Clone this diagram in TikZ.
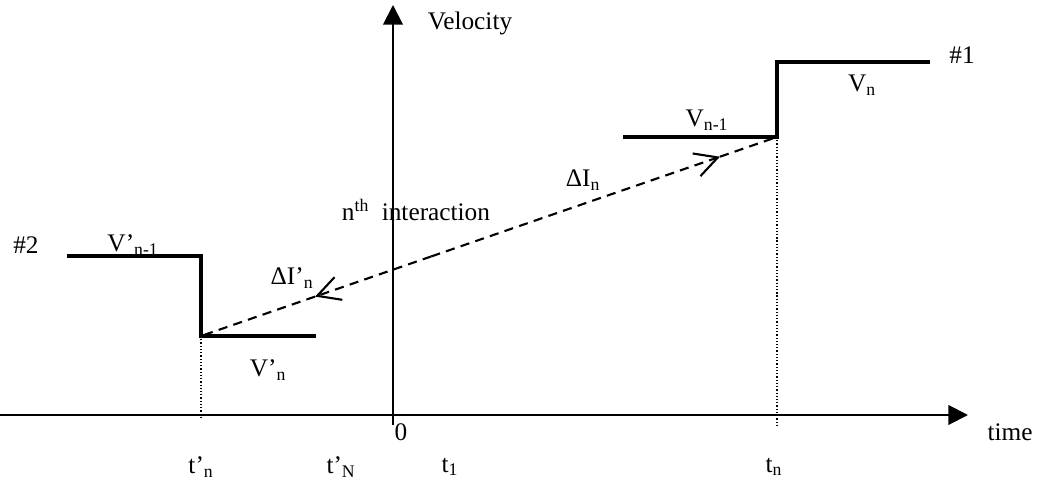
\documentclass[tikz,border=0pt]{standalone}
\usepackage{fontspec}
\setmainfont{Liberation Serif}
\usetikzlibrary{arrows.meta,calc}

\begin{document}
\begin{tikzpicture}[x=0.025cm, y=-0.025cm,
    every node/.style={font=\fontsize{18}{21}\selectfont, inner sep=1pt},
    axis/.style={line width=1.4pt, -{Triangle[length=14pt, width=14pt]}},
    stepline/.style={line width=2.6pt, line join=miter},
    impulse/.style={line width=1.5pt, dash pattern=on 6.5pt off 4.5pt},
    barb/.style={-{Straight Barb[length=16pt, width=17pt, line width=1.5pt]}},
    guide/.style={line width=0.9pt, dash pattern=on 0.9pt off 1.4pt}]

    \useasboundingbox (0,0) rectangle (1042,485);

    % =====================================================
    % Axes
    % =====================================================
    \coordinate (xl) at (0,415);
    \coordinate (xr) at (968,415);
    \coordinate (yb) at (393,425);
    \coordinate (yt) at (393,5);

    \draw[axis] (xl) -- (xr);
    \draw[axis] (yb) -- (yt);

    \node (vel)  at (470,23)  {Velocity};
    \node (time) at (1010,432) {time};
    \node (zero) at (401,432) {0};

    % =====================================================
    % Velocity steps: #1 (right) and #2 (left)
    % =====================================================
    \coordinate (a1)  at (623,137);
    \coordinate (s1)  at (777,137);
    \coordinate (s1u) at (777,62);
    \coordinate (e1)  at (930,62);

    \coordinate (a2)  at (67,256);
    \coordinate (s2u) at (201,256);
    \coordinate (s2)  at (201,336);
    \coordinate (e2)  at (316,336);

    \draw[stepline] (a1) -- (s1) -- (s1u) -- (e1);
    \draw[stepline] (a2) -- (s2u) -- (s2) -- (e2);

    \node (one)  at (962,55)  {\#1};
    \node (two)  at (26,245)  {\#2};
    \node (vn)   at (862,85)  {V\textsubscript{n}};
    \node (vnm)  at (707,120) {V\textsubscript{n-1}};
    \node (vpnm) at (133,245) {V’\textsubscript{n-1}};
    \node (vpn)  at (268,370) {V’\textsubscript{n}};

    % dotted guides down to the time axis
    \coordinate (d1) at (777,427);
    \coordinate (d2) at (201,418);
    \draw[guide] (s1) -- (d1);
    \draw[guide] (s2) -- (d2);

    % =====================================================
    % n-th interaction (impulses)
    % =====================================================
    \coordinate (mid) at ($(s2)!0.4!(s1)$);
    \coordinate (m1)  at ($(s2)!0.901!(s1)$);
    \coordinate (m2)  at ($(s2)!0.198!(s1)$);

    \draw[impulse, barb] (mid) -- (m1);
    \draw[impulse] (m1) -- (s1);
    \draw[impulse, barb] (mid) -- (m2);
    \draw[impulse] (m2) -- (s2);

    \node (din)  at (583,180) {ΔI\textsubscript{n}};
    \node (dipn) at (292,278) {ΔI’\textsubscript{n}};
    \node (nth)  at (416,210) {n\textsuperscript{th}\ \ interaction};

    % =====================================================
    % Time labels
    % =====================================================
    \node (tpn) at (201,467) {t’\textsubscript{n}};
    \node (tpN) at (341,467) {t’\textsubscript{N}};
    \node (t1)  at (450,467) {t\textsubscript{1}};
    \node (tn)  at (774,467) {t\textsubscript{n}};

\end{tikzpicture}
\end{document}
